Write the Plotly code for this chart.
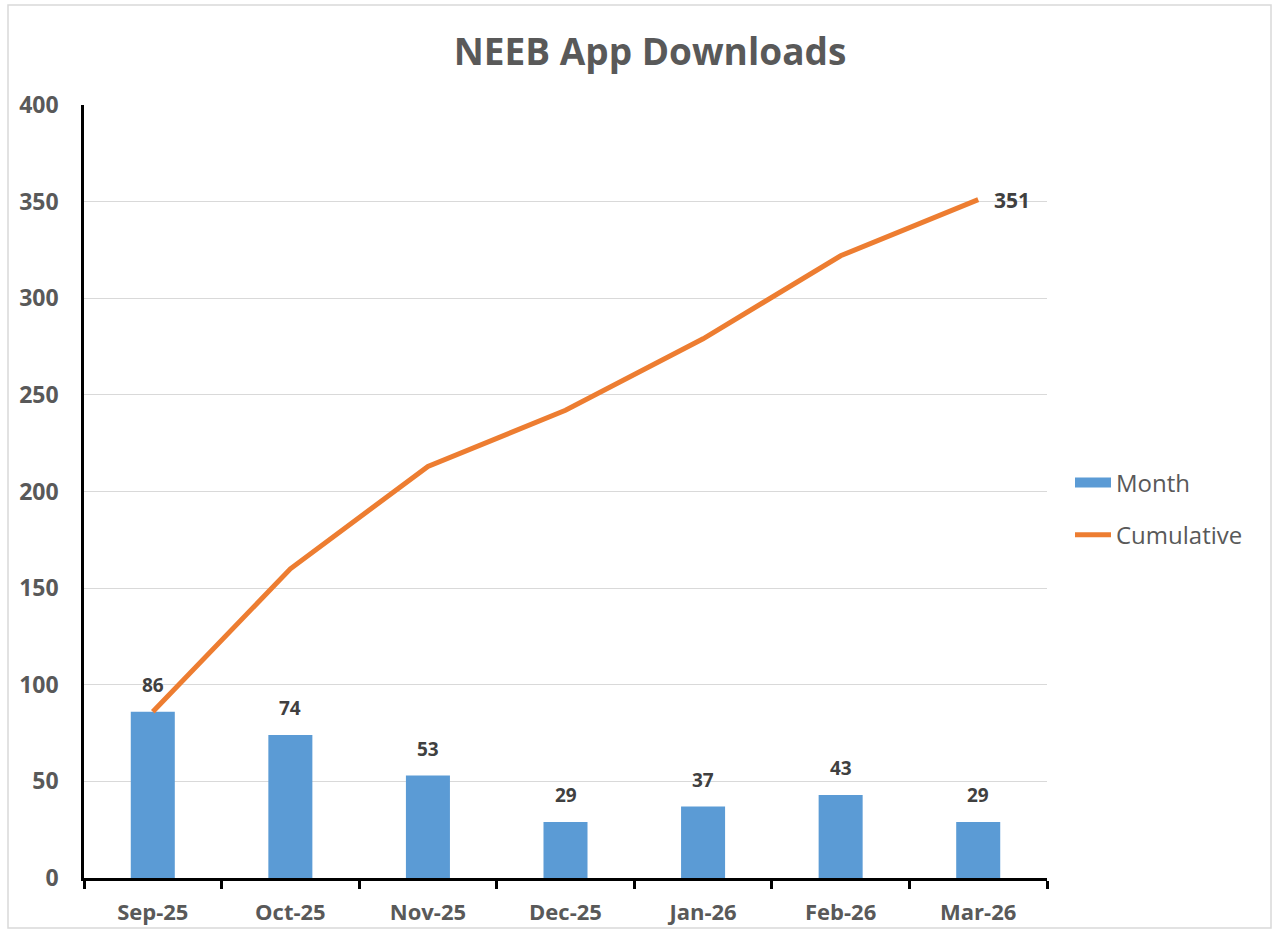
import plotly.graph_objects as go

months = ["Sep-25", "Oct-25", "Nov-25", "Dec-25", "Jan-26", "Feb-26", "Mar-26"]
monthly = [86, 74, 53, 29, 37, 43, 29]
cumulative = [86, 160, 213, 242, 279, 322, 351]
y_ticks = [0, 50, 100, 150, 200, 250, 300, 350, 400]

FONT = "Open Sans"
GRAY = "#595959"
DARK = "#404040"
BLUE = "#5B9BD5"
ORANGE = "#ED7D31"

fig = go.Figure()
fig.add_trace(go.Bar(
    x=months, y=monthly, name="Month",
    marker=dict(color=BLUE, line=dict(width=0)),
    width=0.32, showlegend=False,
))
fig.add_trace(go.Scatter(
    x=months, y=cumulative, name="Cumulative", mode="lines",
    line=dict(color=ORANGE, width=5),
    cliponaxis=False, showlegend=False,
))
# legend entries
fig.add_trace(go.Scatter(x=[None], y=[None], mode="lines", name="Month",
                         line=dict(color=BLUE, width=22), legendgroup="a"))
fig.add_trace(go.Scatter(x=[None], y=[None], mode="lines", name="Cumulative",
                         line=dict(color=ORANGE, width=5), legendgroup="b"))

for m, v in zip(months, monthly):
    fig.add_annotation(x=m, y=v, text=f"<b>{v}</b>", showarrow=False,
                       yanchor="bottom", yshift=12,
                       font=dict(family=FONT, size=19, color=DARK))
fig.add_annotation(x=months[-1], y=cumulative[-1], text=f"<b>{cumulative[-1]}</b>",
                   showarrow=False, xanchor="left", yanchor="middle", xshift=14,
                   font=dict(family=FONT, size=21, color=DARK))

L, R, T, B = 84, 232, 105, 57
W, H = 1279, 935
pw, ph = W - L - R, H - T - B

fig.update_layout(
    width=W, height=H,
    margin=dict(l=L, r=R, t=T, b=B, autoexpand=False),
    paper_bgcolor="white", plot_bgcolor="white",
    title=dict(text="<b>NEEB App Downloads</b>", x=(650 - L) / pw, xref="paper",
               xanchor="center", y=1 - 52 / H, yanchor="middle",
               font=dict(family=FONT, size=37, color=GRAY)),
    font=dict(family=FONT, color=GRAY),
    showlegend=True,
    legend=dict(x=(1070 - L) / pw, xanchor="left", y=(878 - 509) / ph, yanchor="middle",
                font=dict(family=FONT, size=24, color=GRAY),
                tracegroupgap=18, traceorder="grouped", bgcolor="rgba(0,0,0,0)",
                itemwidth=36),
    xaxis=dict(
        type="category", range=[-0.5, len(months) - 0.5], automargin=False,
        showline=True, linecolor="black", linewidth=2.5,
        ticks="outside", tickson="boundaries", ticklen=8, tickwidth=2.5, tickcolor="black",
        tickfont=dict(family=FONT, size=22, color=GRAY, weight="bold"),
        ticklabelstandoff=13, showgrid=False, zeroline=False,
    ),
    yaxis=dict(
        range=[0, 400], tickvals=y_ticks, automargin=False,
        showline=True, linecolor="black", linewidth=2.5,
        ticks="", tickfont=dict(family=FONT, size=23, color=GRAY, weight="bold"),
        ticklabelstandoff=18,
        showgrid=True, gridcolor="#d9d9d9", gridwidth=1, zeroline=False,
    ),
    shapes=[dict(type="rect", xref="paper", yref="paper",
                 x0=(8 - L) / pw, x1=(1271 - L) / pw,
                 y0=(878 - 928) / ph, y1=(878 - 5) / ph,
                 line=dict(color="#d9d9d9", width=1.5), fillcolor="rgba(0,0,0,0)",
                 layer="below")],
)

fig.write_html("out.html", config={"displayModeBar": False},
               post_script="document.body.style.margin='0';")
